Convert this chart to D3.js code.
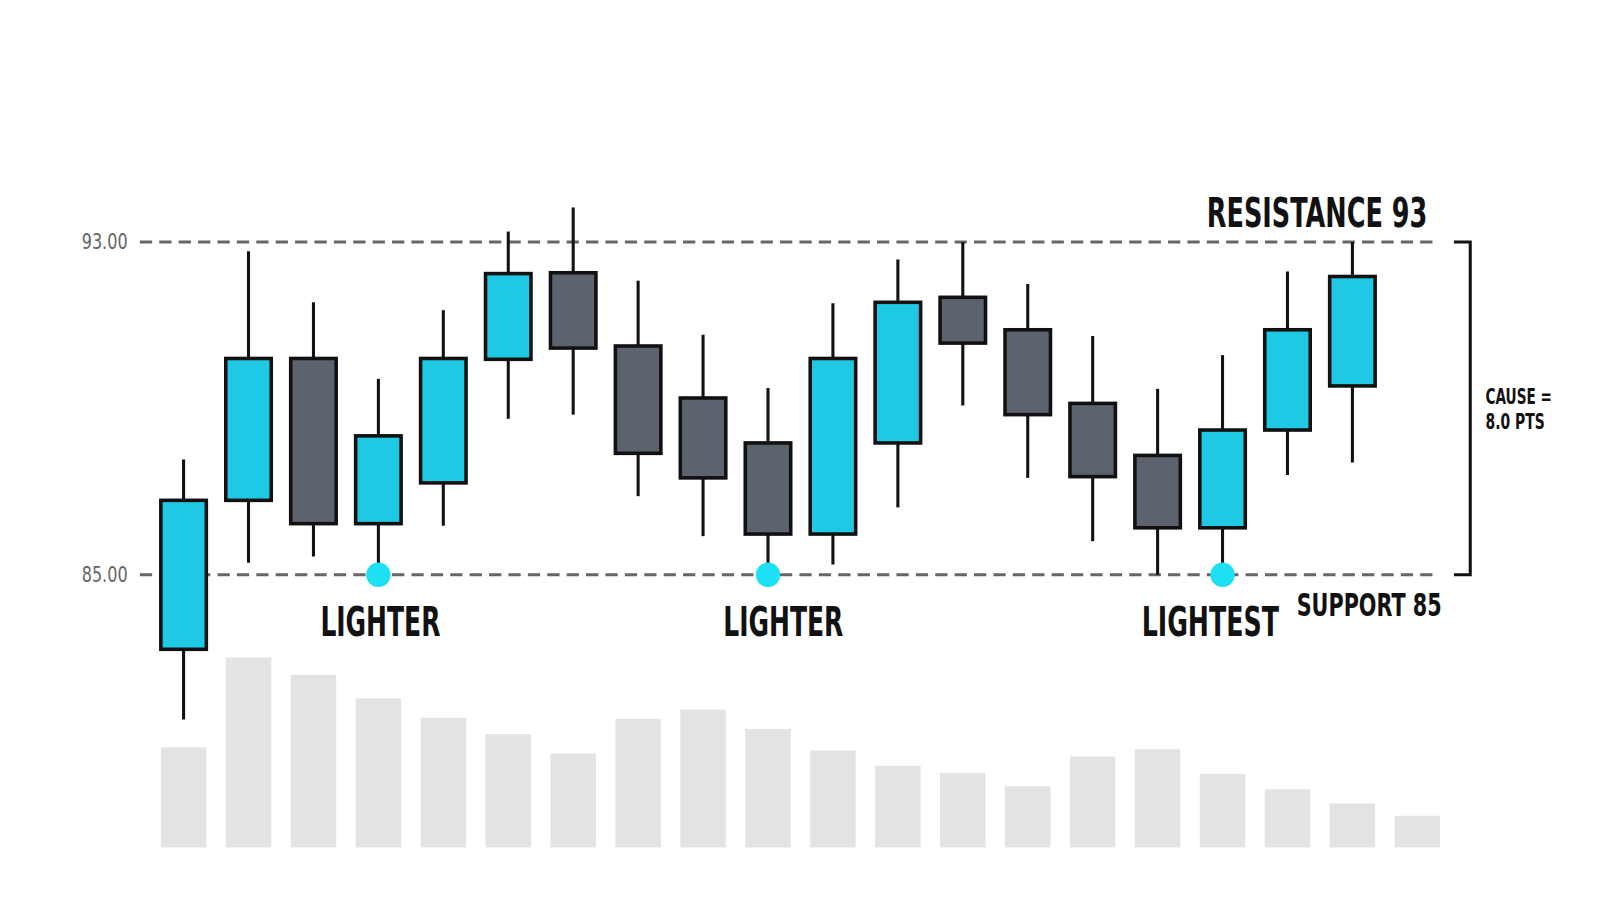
<!DOCTYPE html>
<html><head><meta charset="utf-8">
<script src="https://cdn.jsdelivr.net/npm/d3@7"></script>
<style>
body{margin:0;background:#fff}
text{font-family:"DejaVu Sans Condensed","Liberation Sans Narrow",sans-serif}
</style></head>
<body><svg id="chart" width="1600" height="914"></svg>
<script>
const opens  = [83.21,86.79,90.20,86.23,87.21,90.18,92.26,90.50,89.25,88.17,85.98,88.17,91.67,90.89,89.12,87.87,86.13,88.48,89.54];
const closes = [86.79,90.20,86.23,88.34,90.20,92.24,90.45,87.92,87.33,85.98,90.20,91.55,90.57,88.85,87.36,86.13,88.48,90.89,92.17];
const highs  = [87.77,92.78,91.55,89.71,91.36,93.25,93.83,92.07,90.77,89.49,91.53,92.58,93.00,91.99,90.74,89.47,90.28,92.29,93.00];
const lows   = [81.52,85.29,85.44,85.00,86.18,88.75,88.85,86.89,85.93,85.00,85.25,86.62,89.07,87.33,85.81,85.00,85.00,87.40,87.70];
const volumes = [98,186,169,146,127,111,92,126,135,116,95,80,73,60,89,96,72,57,43,31];
const tests = [{i:3,label:"LIGHTER"},{i:9,label:"LIGHTER"},{i:16,label:"LIGHTEST"}];
const yTicks = [85,93];

const svg = d3.select("#chart").append("g").attr("transform","scale(1.021)");
const idx = d3.range(volumes.length);
const x = d3.scaleBand().domain(idx).range([148,1420]).paddingInner(0.3).paddingOuter(0.15);
const y = d3.scaleLinear().domain([85,93]).range([563,237]);
const yv = d3.scaleLinear().domain([0,186]).range([830,644]);
const cx = i => x(i) + x.bandwidth()/2;
const labelShift = [2, 15, -12];

function label(xp, yp, txt, size, len, anchor) {
  svg.append("text").attr("x",xp).attr("y",yp).attr("text-anchor",anchor||"start")
    .attr("font-size",size).attr("font-weight","bold").attr("fill","#111")
    .attr("textLength",len).attr("lengthAdjust","spacingAndGlyphs").text(txt);
}

// volume
svg.selectAll("rect.vol").data(volumes).join("rect")
  .attr("x",(d,i)=>x(i)).attr("width",x.bandwidth())
  .attr("y",d=>yv(d)).attr("height",d=>yv(0)-yv(d)).attr("fill","#e3e3e5");

// levels
svg.selectAll("line.lvl").data(yTicks).join("line")
  .attr("x1",137).attr("x2",1410).attr("y1",d=>y(d)).attr("y2",d=>y(d))
  .attr("stroke","#666").attr("stroke-width",3).attr("stroke-dasharray","12,7");
svg.selectAll("text.tick").data(yTicks).join("text")
  .attr("x",80).attr("y",d=>y(d)+7)
  .attr("fill","#666").attr("font-size",21).attr("textLength",45)
  .attr("lengthAdjust","spacingAndGlyphs").text(d=>d.toFixed(2));

// candles
const c = svg.selectAll("g.c").data(opens).join("g");
c.append("line").attr("x1",(d,i)=>cx(i)).attr("x2",(d,i)=>cx(i))
  .attr("y1",(d,i)=>y(highs[i])).attr("y2",(d,i)=>y(lows[i]))
  .attr("stroke","#111").attr("stroke-width",3);
c.append("rect").attr("x",(d,i)=>x(i)).attr("width",x.bandwidth())
  .attr("y",(d,i)=>y(Math.max(d,closes[i])))
  .attr("height",(d,i)=>Math.abs(y(d)-y(closes[i])))
  .attr("fill",(d,i)=>closes[i]>d?"#1fc8e3":"#5d636e")
  .attr("stroke","#111").attr("stroke-width",3.5);

// tests
svg.selectAll("circle.t").data(tests).join("circle")
  .attr("cx",d=>cx(d.i)).attr("cy",y(85)).attr("r",12).attr("fill","#1de0f2");
tests.forEach((d,k) => label(cx(d.i)+labelShift[k], 623, d.label, 40, d.label.length*16.8, "middle"));

label(1182, 222, "RESISTANCE 93", 40, 216);
label(1270, 603, "SUPPORT 85", 32, 142);

// bracket
svg.append("path").attr("d",`M1424,${y(93)}H1440V${y(85)}H1424`)
  .attr("fill","none").attr("stroke","#111").attr("stroke-width",3);
label(1455, 396, "CAUSE =", 20, 65);
label(1455, 420, "8.0 PTS", 20, 58);
</script></body></html>
